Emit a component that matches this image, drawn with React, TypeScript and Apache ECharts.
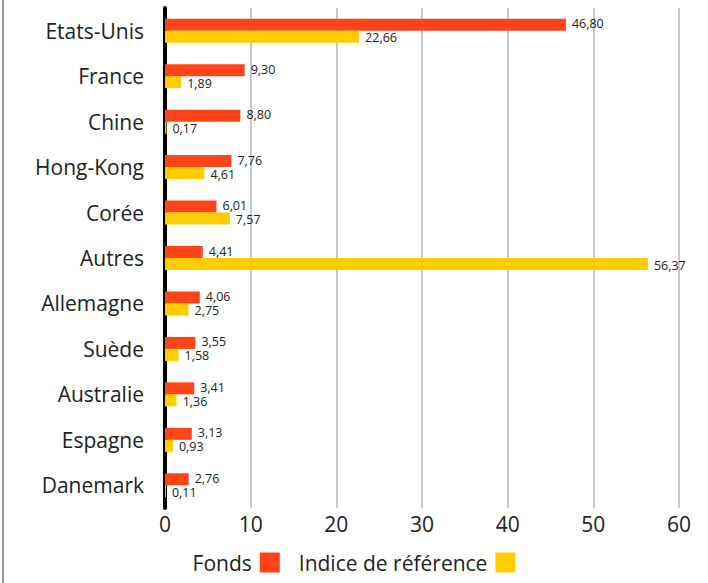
import React, { useEffect, useRef } from "react";
import * as echarts from "echarts";

const categories = ["Etats-Unis", "France", "Chine", "Hong-Kong", "Corée", "Autres", "Allemagne", "Suède", "Australie", "Espagne", "Danemark"];
const fonds = [46.8, 9.3, 8.8, 7.76, 6.01, 4.41, 4.06, 3.55, 3.41, 3.13, 2.76];
const indice = [22.66, 1.89, 0.17, 4.61, 7.57, 56.37, 2.75, 1.58, 1.36, 0.93, 0.11];
const xTicks = [0, 10, 20, 30, 40, 50, 60];

const FONT = "Open Sans";
const fmt = (v: number) => v.toFixed(2).replace(".", ",");

export default function App() {
  const ref = useRef<HTMLDivElement>(null);
  useEffect(() => {
    document.body.style.margin = "0";
    const chart = echarts.init(ref.current!, null, { renderer: "svg" });
    chart.setOption({
      animation: false,
      textStyle: { fontFamily: FONT },
      grid: { left: 165, right: 29, top: 8, bottom: 75, containLabel: false },
      xAxis: {
        type: "value",
        min: xTicks[0],
        max: xTicks[xTicks.length - 1],
        interval: 10,
        axisLine: { show: false },
        axisTick: { show: false },
        splitLine: { show: true, lineStyle: { color: "#c8c8c8", width: 2 } },
        axisLabel: { fontSize: 21, color: "#222", margin: 5, fontFamily: FONT },
      },
      yAxis: {
        type: "category",
        data: categories,
        inverse: true,
        axisLine: { show: true, lineStyle: { color: "#000", width: 4 } },
        axisTick: { show: false },
        axisLabel: { fontSize: 21, color: "#222", margin: 21, fontFamily: FONT },
      },
      legend: {
        bottom: 5,
        left: "center",
        align: "right",
        itemWidth: 20,
        itemHeight: 20,
        itemGap: 19,
        icon: "rect",
        textStyle: { fontSize: 21, color: "#222", fontFamily: FONT, padding: [0, 3, 0, 0] },
        data: ["Fonds", "Indice de référence"],
      },
      series: [
        {
          name: "Fonds",
          type: "bar",
          data: fonds,
          barWidth: 12,
          barGap: "0%",
          itemStyle: { color: "#FF4517" },
          label: { show: true, position: "right", distance: 6, offset: [0, -1], fontSize: 12.5, lineHeight: 11, color: "#222", formatter: (p: any) => fmt(p.value) },
        },
        {
          name: "Indice de référence",
          type: "bar",
          data: indice,
          barWidth: 12,
          barGap: "0%",
          itemStyle: { color: "#FFCC00" },
          label: { show: true, position: "right", distance: 6, offset: [0, 1], fontSize: 12.5, lineHeight: 11, color: "#222", formatter: (p: any) => fmt(p.value) },
        },
      ],
      graphic: [
        { type: "line", shape: { x1: 3, y1: 0, x2: 3, y2: 583 }, style: { stroke: "#999", lineWidth: 2 } },
      ],
    });
    return () => chart.dispose();
  }, []);
  return <div ref={ref} style={{ width: 708, height: 583 }} />;
}
